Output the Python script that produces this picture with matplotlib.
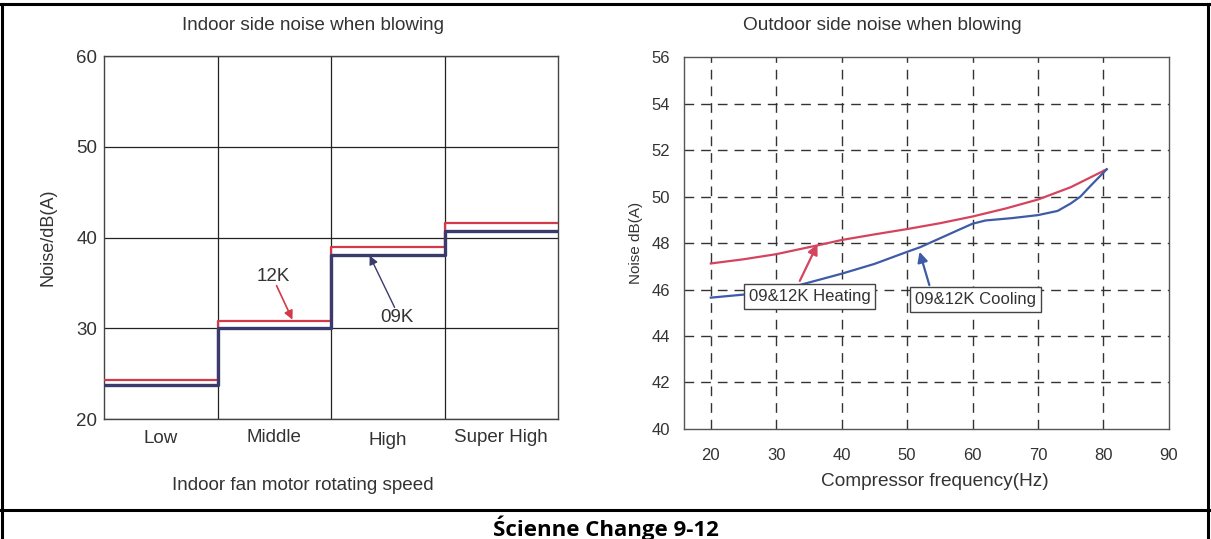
import matplotlib.pyplot as plt
from matplotlib.lines import Line2D

plt.rcParams['font.family'] = ['Liberation Sans', 'DejaVu Sans']
txt = '#333333'

# indoor unit, noise per fan speed step
speeds = ['Low', 'Middle', 'High', 'Super High']
noise_12k = [24.3, 30.8, 38.9, 41.6]
noise_09k = [23.7, 30.0, 38.1, 40.7]

# outdoor unit, noise vs compressor frequency
freq_heat = [20, 25, 30, 37, 40, 45, 50, 55, 60, 65, 70, 75, 80.5]
noise_heat = [47.12, 47.3, 47.52, 47.94, 48.13, 48.37, 48.6, 48.85, 49.14, 49.48, 49.87, 50.4, 51.17]
freq_cool = [20, 25, 30, 35, 40, 45, 50, 52, 55, 58, 60, 62, 66, 70, 73, 75, 76.5, 78, 80.5]
noise_cool = [45.65, 45.78, 45.93, 46.3, 46.68, 47.1, 47.62, 47.82, 48.2, 48.58, 48.83, 48.97, 49.07, 49.2, 49.38, 49.7, 50.0, 50.45, 51.17]

fig = plt.figure(figsize=(12.11, 5.39), dpi=100)
H = 539.0
W = 1211.0

# ---- left: indoor side
ax1 = fig.add_axes([0.0859, 0.2226, 0.3749, 0.6735])
x = [0, 1, 2, 3, 4.03]
ax1.step(x, noise_12k + [noise_12k[-1]], where='post', color='#d23a4a', lw=1.6, zorder=3)
ax1.step(x, noise_09k + [noise_09k[-1]], where='post', color='#3b3a6c', lw=2.4, zorder=4)
ax1.set_xlim(0, 4)
ax1.set_ylim(20, 60)
ax1.set_yticks([20, 30, 40, 50, 60])
ax1.set_xticks([1, 2, 3])
ax1.set_xticklabels([])
ax1.grid(True, color='#222222', lw=0.9)
ax1.tick_params(length=0, labelsize=13.5, labelcolor=txt, pad=5)
for s in ax1.spines.values():
    s.set_color('#444444')
    s.set_linewidth(1.0)
lab_y = [17.8, 18.0, 17.6, 18.0]
for i, name in enumerate(speeds):
    ax1.text(i + 0.5, lab_y[i], name, ha='center', va='center',
             fontsize=13.5, color=txt, clip_on=False)
ax1.set_ylabel('Noise/dB(A)', fontsize=13, color=txt, labelpad=14)
fig.text(313 / W, 1 - 25 / H, 'Indoor side noise when blowing', ha='center', va='center',
         fontsize=13.6, color=txt)
fig.text(303 / W, 1 - 486 / H, 'Indoor fan motor rotating speed', ha='center', va='center',
         fontsize=13.6, color=txt)
ax1.text(1.49, 35.65, '12K', ha='center', va='center', fontsize=13.5, color=txt)
ax1.annotate('', xy=(1.66, 30.95), xytext=(1.52, 34.7),
             arrowprops=dict(arrowstyle='-|>', color='#d23a4a', lw=1.2, mutation_scale=13,
                             shrinkA=0, shrinkB=0))
ax1.text(2.58, 31.2, '09K', ha='center', va='center', fontsize=13.5, color=txt)
ax1.annotate('', xy=(2.34, 38.0), xytext=(2.56, 32.3),
             arrowprops=dict(arrowstyle='-|>', color='#3b3a6c', lw=1.0, mutation_scale=13,
                             shrinkA=0, shrinkB=0))

# ---- right: outdoor side
ax2 = fig.add_axes([0.5648, 0.2041, 0.4004, 0.6901])
ax2.plot(freq_heat, noise_heat, color='#d4445e', lw=1.6, zorder=3)
ax2.plot(freq_cool, noise_cool, color='#3d5ba6', lw=1.6, zorder=3)
ax2.set_xlim(15.9, 90)
ax2.set_ylim(40, 56)
ax2.set_xticks(range(20, 100, 10))
ax2.set_yticks(range(40, 58, 2))
for v in range(20, 90, 10):
    ax2.axvline(v, color='#333333', lw=1.0, dashes=(7, 5), zorder=1)
for v in range(42, 56, 2):
    ax2.axhline(v, color='#333333', lw=1.0, dashes=(7, 5), zorder=1)
ax2.tick_params(length=0, labelsize=12, labelcolor=txt)
ax2.tick_params(axis='x', pad=14)
ax2.tick_params(axis='y', pad=10)
for s in ax2.spines.values():
    s.set_color('#555555')
    s.set_linewidth(1.0)
ax2.set_ylabel('Noise dB(A)', fontsize=11, color=txt, labelpad=6)
fig.text(882 / W, 1 - 25 / H, 'Outdoor side noise when blowing', ha='center', va='center',
         fontsize=13.7, color=txt)
fig.text(935 / W, 1 - 481 / H, 'Compressor frequency(Hz)', ha='center', va='center',
         fontsize=13.7, color=txt)

box = dict(boxstyle='square,pad=0.3', fc='white', ec='#444444', lw=1.0)
ax2.text(35.1, 45.72, '09&12K Heating', ha='center', va='center', fontsize=12, color=txt,
         bbox=box, zorder=5)
ax2.annotate('', xy=(36.3, 47.95), xytext=(33.6, 46.37),
             arrowprops=dict(arrowstyle='-|>', color='#d4445e', lw=1.6, mutation_scale=15,
                             shrinkA=0, shrinkB=0), zorder=4)
ax2.text(60.5, 45.55, '09&12K Cooling', ha='center', va='center', fontsize=12, color=txt,
         bbox=box, zorder=5)
ax2.annotate('', xy=(51.9, 47.62), xytext=(53.4, 46.19),
             arrowprops=dict(arrowstyle='-|>', color='#3d5ba6', lw=1.6, mutation_scale=15,
                             shrinkA=0, shrinkB=0), zorder=4)

# ---- page frame and caption
frame = dict(color='black', lw=2.2, transform=fig.transFigure)
fig.add_artist(Line2D([0, 1], [1 - 4 / H, 1 - 4 / H], **frame))
fig.add_artist(Line2D([2 / W, 2 / W], [0, 1 - 4 / H], **frame))
fig.add_artist(Line2D([1 - 3 / W, 1 - 3 / W], [0, 1 - 4 / H], **frame))
fig.add_artist(Line2D([0, 1], [1 - 510 / H, 1 - 510 / H], **frame))
fig.text(0.5, 1 - 528 / H, 'Ścienne Change 9-12', ha='center', va='center',
         fontsize=16, fontweight='bold', family=['Open Sans', 'DejaVu Sans'], color='black')

fig.savefig('out.png', dpi=100)
